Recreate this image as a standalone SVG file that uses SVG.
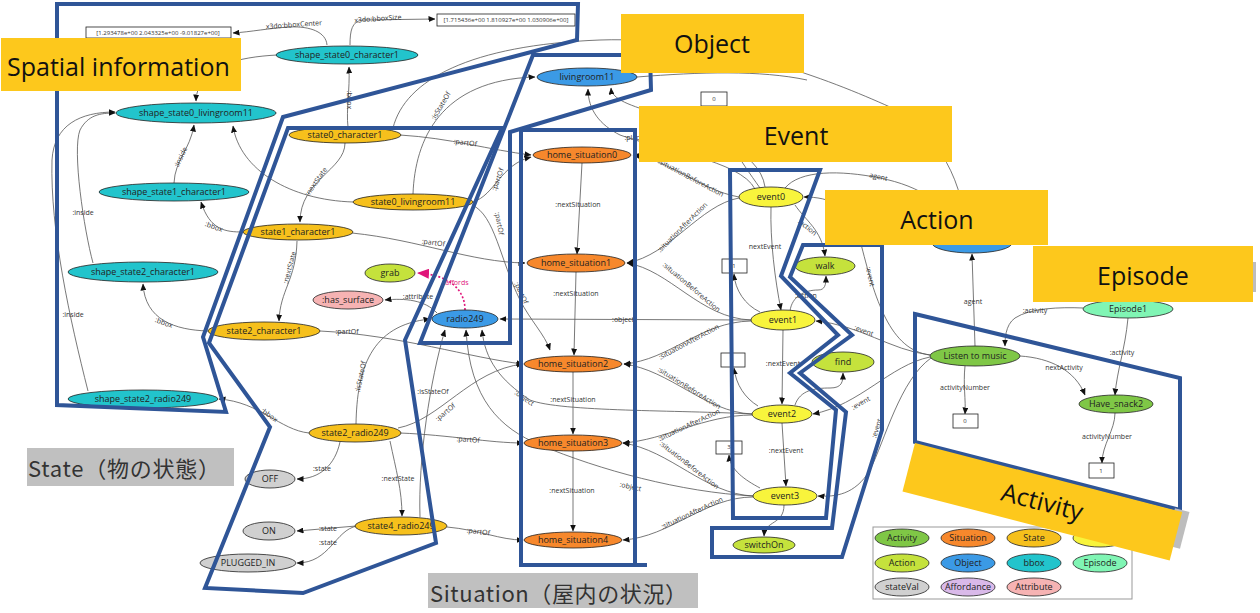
<svg xmlns="http://www.w3.org/2000/svg" width="1260" height="613" viewBox="0 0 1260 613">
<defs>
<marker id="ah" markerWidth="7" markerHeight="6" refX="6.5" refY="3" orient="auto" markerUnits="userSpaceOnUse"><path d="M0,0 L7,3 L0,6 z" fill="#111"/></marker>
<marker id="am" markerWidth="12" markerHeight="10" refX="11" refY="5" orient="auto" markerUnits="userSpaceOnUse"><path d="M0,0 L12,5 L0,10 z" fill="#e0157a"/></marker>
<style>
.e{fill:none;stroke:#555;stroke-width:0.8;marker-end:url(#ah)}
.en{fill:none;stroke:#555;stroke-width:0.8}
.el{font-family:"Open Sans","DejaVu Sans",sans-serif;font-size:7px;fill:#333;text-anchor:middle}
.n{stroke:#222;stroke-width:0.8}
.nt{font-family:"Open Sans","DejaVu Sans",sans-serif;font-size:9px;fill:#222;text-anchor:middle}
.bx{fill:#fff;stroke:#222;stroke-width:0.8}
.bt{font-family:"Open Sans","DejaVu Sans",sans-serif;font-size:6px;fill:#333;text-anchor:middle}
.bbox{fill:#22c4cc}.state{fill:#f6c01c}.sit{fill:#f7882c}.obj{fill:#3b9ae6}.ev{fill:#f8f43c}.act{fill:#c5e23c}.acty{fill:#7fc746}.epi{fill:#80f5b4}.sv{fill:#d0d0d0}.aff{fill:#d9b9e9}.attr{fill:#f6b3b3}
.pg{fill:none;stroke:#2f5597;stroke-width:4;stroke-linejoin:miter}
.yl{fill:#fdc81c}
.yt{font-family:"Open Sans","Noto Sans",sans-serif;font-size:25px;fill:#111;text-anchor:middle}
.gl{fill:#c0c0c0}
.gt{font-family:"Noto Sans CJK JP","Noto Sans",sans-serif;font-size:22px;fill:#333}
</style>
</defs>
<rect width="1260" height="613" fill="#fff"/>

<g id="connectors">
<path class="e" d="M327,45 C326,32 310,26 290,27 C270,28 250,32 233,33"/>
<text class="el" x="294" y="27" transform="rotate(-4 294 27)">x3do:bboxCenter</text>
<path class="e" d="M350,45 C350,30 352,22 362,20 L435,19"/>
<text class="el" x="378" y="21" transform="rotate(-4 378 21)">x3do:bboxSize</text>
<path class="e" d="M277,55 C240,57 197,65 196,101"/>
<path class="e" d="M348,127 C346,110 350,90 349,67"/>
<text class="el" x="347" y="100" transform="rotate(90 347 100)">:bbox</text>
<path class="e" d="M174,183 C175,160 190,150 194,125"/>
<text class="el" x="183" y="158" transform="rotate(-65 183 158)">:inside</text>
<path class="e" d="M353,202 C290,200 240,170 233,126"/>
<path class="e" d="M345,143 C345,170 300,180 300,222"/>
<text class="el" x="318" y="183" transform="rotate(-55 318 183)">:nextState</text>
<path class="e" d="M243,232 C225,232 210,230 201,202"/>
<text class="el" x="213" y="229" transform="rotate(20 213 229)">:bbox</text>
<path class="e" d="M297,241 C296,280 280,290 279,321"/>
<text class="el" x="292" y="268" transform="rotate(-75 292 268)">:nextState</text>
<path class="e" d="M208,331 C175,330 145,320 143,284"/>
<text class="el" x="163" y="325" transform="rotate(20 163 325)">:bbox</text>
<path class="e" d="M93,263 C84,230 72,150 80,130 C88,115 100,113 115,113"/>
<text class="el" x="83" y="215">:inside</text>
<path class="e" d="M88,391 C70,320 50,230 52,160 C54,125 80,112 115,112"/>
<text class="el" x="73" y="317">:inside</text>
<path class="e" d="M309,433 C280,430 260,402 219,399"/>
<text class="el" x="268" y="417" transform="rotate(35 268 417)">:bbox</text>
<path class="e" d="M340,442 C335,465 320,479 297,479"/>
<text class="el" x="322" y="471">:state</text>
<path class="e" d="M390,441 C396,470 402,490 402,516"/>
<text class="el" x="398" y="481">:nextState</text>
<path class="e" d="M356,526 L297,531"/>
<text class="el" x="328" y="531">:state</text>
<path class="e" d="M357,526 C335,530 330,563 297,563"/>
<text class="el" x="328" y="545">:state</text>
<path class="e" d="M447,527 C480,530 500,540 523,540"/>
<text class="el" x="478" y="534" transform="rotate(8 478 534)">:partOf</text>
<path class="e" d="M400,433 C450,435 490,443 523,443"/>
<text class="el" x="468" y="442" transform="rotate(4 468 442)">:partOf</text>
<path class="e" d="M398,428 C440,420 470,370 523,364"/>
<text class="el" x="447" y="414" transform="rotate(-40 447 414)">:partOf</text>
<path class="e" d="M356,424 C357,370 370,325 430,319"/>
<text class="el" x="363" y="377" transform="rotate(-78 363 377)">:isStateOf</text>
<path class="e" d="M420,517 C418,460 430,380 445,330"/>
<text class="el" x="433" y="394">:isStateOf</text>
<path class="e" d="M753,496 C680,492 600,470 540,445 C500,428 470,400 466,330"/>
<text class="el" x="630" y="489" transform="rotate(12 630 489)">:object</text>
<path class="e" d="M752,414 C680,410 560,412 530,400 C500,380 485,360 482,330"/>
<text class="el" x="523" y="400" transform="rotate(35 523 400)">:object</text>
<path class="e" d="M751,320 L500,319"/>
<text class="el" x="623" y="322">:object</text>
<path fill="none" stroke="#e0157a" stroke-width="1.6" stroke-dasharray="2,2" marker-end="url(#am)" d="M465,310 C465,290 450,275 418,273"/>
<text class="el" x="456" y="285" style="fill:#e0157a">:affords</text>
<path class="e" d="M437,313 C425,300 405,298 385,300"/>
<text class="el" x="418" y="299">:attribute</text>
<path class="e" d="M413,194 C415,140 440,80 535,77"/>
<text class="el" x="443" y="107" transform="rotate(-60 443 107)">:isStateOf</text>
<path class="e" d="M393,128 C405,80 470,45 600,40 C720,36 830,80 890,107 C930,128 962,170 966,232"/>
<path class="e" d="M400,135 C450,138 490,150 531,155"/>
<text class="el" x="465" y="145" transform="rotate(8 465 145)">:partOf</text>
<path class="e" d="M473,202 C495,195 500,165 531,157"/>
<text class="el" x="500" y="180" transform="rotate(-70 500 180)">:partOf</text>
<path class="e" d="M472,205 C495,215 500,260 520,300 C530,320 545,335 550,350"/>
<text class="el" x="497" y="224" transform="rotate(80 497 224)">:partOf</text>
<text class="el" x="519" y="294" transform="rotate(65 519 294)">:partOf</text>
<path class="e" d="M352,233 C420,240 470,262 525,263"/>
<text class="el" x="433" y="245" transform="rotate(8 433 245)">:partOf</text>
<path class="e" d="M320,331 C400,335 470,358 523,364"/>
<text class="el" x="347" y="334">:partOf</text>
<path class="e" d="M582,163 L577,254"/>
<text class="el" x="578" y="207">:nextSituation</text>
<path class="e" d="M576,272 L574,355"/>
<text class="el" x="576" y="296">:nextSituation</text>
<path class="e" d="M573,372 L573,434"/>
<text class="el" x="573" y="402">:nextSituation</text>
<path class="e" d="M573,451 L573,531"/>
<text class="el" x="572" y="493">:nextSituation</text>
<path class="e" d="M739,197 C700,190 670,160 633,155"/>
<text class="el" x="690" y="180" transform="rotate(28 690 180)">:situationBeforeAction</text>
<path class="e" d="M739,198 C700,205 670,255 627,263"/>
<text class="el" x="684" y="229" transform="rotate(-45 684 229)">:situationAfterAction</text>
<path class="e" d="M751,320 C700,318 670,270 627,263"/>
<text class="el" x="690" y="289" transform="rotate(40 690 289)">:situationBeforeAction</text>
<path class="e" d="M751,321 C700,322 670,360 624,364"/>
<text class="el" x="690" y="344" transform="rotate(-28 690 344)">:situationAfterAction</text>
<path class="e" d="M752,414 C705,412 670,370 624,364"/>
<text class="el" x="688" y="390" transform="rotate(32 688 390)">:situationBeforeAction</text>
<path class="e" d="M752,415 C705,415 665,440 623,443"/>
<text class="el" x="690" y="427" transform="rotate(-25 690 427)">:situationAfterAction</text>
<path class="e" d="M753,496 C705,494 670,450 623,443"/>
<text class="el" x="688" y="467" transform="rotate(38 688 467)">:situationBeforeAction</text>
<path class="e" d="M753,497 C705,497 670,537 623,540"/>
<text class="el" x="693" y="515" transform="rotate(-25 693 515)">:situationAfterAction</text>
<path class="e" d="M771,207 C770,240 775,280 781,310"/>
<text class="el" x="765" y="249">nextEvent</text>
<path class="e" d="M783,330 L782,404"/>
<text class="el" x="783" y="366">:nextEvent</text>
<path class="e" d="M782,423 L786,486"/>
<text class="el" x="786" y="453">:nextEvent</text>
<path class="e" d="M760,312 C745,305 735,290 734,274"/>
<path class="e" d="M758,406 C745,398 736,385 734,368"/>
<path class="e" d="M760,488 C745,480 730,470 729,455"/>
<path class="e" d="M760,188 C740,160 720,130 714,107"/>
<path class="e" d="M790,311 C792,296 805,290 818,290 C825,290 826,285 826,276"/>
<text class="el" x="806" y="298">:action</text>
<path class="e" d="M795,405 C800,390 815,388 830,388 C842,388 843,382 843,373"/>
<path class="e" d="M784,505 C784,525 765,520 764,536"/>
<path class="e" d="M795,205 C805,220 822,230 825,256"/>
<text class="el" x="806" y="229" transform="rotate(40 806 229)">:action</text>
<path class="e" d="M930,355 C890,350 875,300 860,240 C850,205 830,197 804,197"/>
<text class="el" x="868" y="277" transform="rotate(78 868 277)">:event</text>
<path class="e" d="M930,355 C890,350 860,325 816,321"/>
<text class="el" x="863" y="333" transform="rotate(20 863 333)">:event</text>
<path class="e" d="M930,357 C890,365 860,405 813,414"/>
<text class="el" x="862" y="405" transform="rotate(-30 862 405)">:event</text>
<path class="e" d="M931,358 C900,380 885,440 870,470 C855,495 835,497 818,496"/>
<text class="el" x="879" y="429" transform="rotate(-72 879 429)">:event</text>
<path class="e" d="M785,188 C800,170 840,170 880,178 C920,186 950,205 960,235"/>
<text class="el" x="878" y="179" transform="rotate(12 878 179)">agent</text>
<path class="e" d="M975,346 L972,254"/>
<text class="el" x="973" y="304">agent</text>
<path class="e" d="M1083,308 C1060,307 1030,308 1015,318 C1005,325 1005,340 1005,346"/>
<text class="el" x="1035" y="313">:activity</text>
<path class="e" d="M1128,318 C1125,350 1117,370 1115,395"/>
<text class="el" x="1122" y="355">:activity</text>
<path class="e" d="M1020,356 C1050,358 1075,370 1085,395"/>
<text class="el" x="1064" y="370">nextActivity</text>
<path class="e" d="M965,366 C963,385 966,400 965,414"/>
<text class="el" x="965" y="390">activityNumber</text>
<path class="e" d="M1115,413 C1115,430 1102,445 1102,463"/>
<text class="el" x="1107" y="439">activityNumber</text>
<path class="e" d="M755,189 C740,160 660,150 620,135 C600,125 588,110 588,89"/>
<path class="e" d="M765,187 C760,150 700,130 660,115 C630,105 612,100 611,88"/>
<text class="el" x="634" y="140">:place</text>
<path class="en" d="M637,77 C700,72 760,70 807,80"/>
</g>

<g id="n-box1"><rect class="bx" x="86" y="27" width="145" height="11"/><text class="bt" x="158" y="35">[1.293478e+00 2.043325e+00 -9.01827e+00]</text></g>
<g id="n-box2"><rect class="bx" x="437" y="14" width="138" height="12"/><text class="bt" x="506" y="22">[1.715436e+00 1.810927e+00 1.030906e+00]</text></g>
<g id="n-ss0c1"><ellipse class="n bbox" cx="347" cy="55" rx="71" ry="9"/><text class="nt" x="347" y="58">shape_state0_character1</text></g>
<g id="n-ss0l"><ellipse class="n bbox" cx="196" cy="113" rx="80" ry="10"/><text class="nt" x="196" y="116">shape_state0_livingroom11</text></g>
<g id="n-ss1c1"><ellipse class="n bbox" cx="174" cy="192" rx="75" ry="9"/><text class="nt" x="174" y="195">shape_state1_character1</text></g>
<g id="n-ss2c1"><ellipse class="n bbox" cx="143" cy="272" rx="75" ry="10"/><text class="nt" x="143" y="275">shape_state2_character1</text></g>
<g id="n-ss2r"><ellipse class="n bbox" cx="143" cy="399" rx="75" ry="9"/><text class="nt" x="143" y="402">shape_state2_radio249</text></g>
<g id="n-s0c1"><ellipse class="n state" cx="345" cy="135" rx="56" ry="8"/><text class="nt" x="345" y="138">state0_character1</text></g>
<g id="n-s0l"><ellipse class="n state" cx="413" cy="202" rx="60" ry="8"/><text class="nt" x="413" y="205">state0_livingroom11</text></g>
<g id="n-s1c1"><ellipse class="n state" cx="298" cy="232" rx="55" ry="8"/><text class="nt" x="298" y="235">state1_character1</text></g>
<g id="n-s2c1"><ellipse class="n state" cx="264" cy="331" rx="56" ry="9"/><text class="nt" x="264" y="334">state2_character1</text></g>
<g id="n-s2r"><ellipse class="n state" cx="355" cy="433" rx="46" ry="9"/><text class="nt" x="355" y="436">state2_radio249</text></g>
<g id="n-s4r"><ellipse class="n state" cx="401" cy="526" rx="46" ry="9"/><text class="nt" x="401" y="529">state4_radio249</text></g>
<g id="n-grab"><ellipse class="n act" cx="390" cy="273" rx="25" ry="9"/><text class="nt" x="390" y="276">grab</text></g>
<g id="n-hs"><ellipse class="n attr" cx="348" cy="300" rx="35" ry="9"/><text class="nt" x="348" y="303">:has_surface</text></g>
<g id="n-radio"><ellipse class="n obj" cx="465" cy="319" rx="33" ry="9"/><text class="nt" x="465" y="322">radio249</text></g>
<g id="n-lr"><ellipse class="n obj" cx="587" cy="77" rx="50" ry="9"/><text class="nt" x="587" y="80">livingroom11</text></g>
<g id="n-char1"><ellipse class="n obj" cx="972" cy="243" rx="40" ry="10"/></g>
<g id="n-off"><ellipse class="n sv" cx="270" cy="479" rx="25" ry="9"/><text class="nt" x="270" y="482">OFF</text></g>
<g id="n-on"><ellipse class="n sv" cx="269" cy="531" rx="26" ry="9"/><text class="nt" x="269" y="534">ON</text></g>
<g id="n-plug"><ellipse class="n sv" cx="248" cy="563" rx="48" ry="9"/><text class="nt" x="248" y="566">PLUGGED_IN</text></g>
<g id="n-h0"><ellipse class="n sit" cx="582" cy="155" rx="49" ry="8"/><text class="nt" x="582" y="158">home_situation0</text></g>
<g id="n-h1"><ellipse class="n sit" cx="576" cy="263" rx="49" ry="9"/><text class="nt" x="576" y="266">home_situation1</text></g>
<g id="n-h2"><ellipse class="n sit" cx="573" cy="364" rx="49" ry="8"/><text class="nt" x="573" y="367">home_situation2</text></g>
<g id="n-h3"><ellipse class="n sit" cx="573" cy="443" rx="49" ry="8"/><text class="nt" x="573" y="446">home_situation3</text></g>
<g id="n-h4"><ellipse class="n sit" cx="573" cy="540" rx="49" ry="8"/><text class="nt" x="573" y="543">home_situation4</text></g>
<g id="n-e0"><ellipse class="n ev" cx="771" cy="197" rx="32" ry="10"/><text class="nt" x="771" y="200">event0</text></g>
<g id="n-e1"><ellipse class="n ev" cx="783" cy="320" rx="32" ry="10"/><text class="nt" x="783" y="323">event1</text></g>
<g id="n-e2"><ellipse class="n ev" cx="782" cy="414" rx="30" ry="9"/><text class="nt" x="782" y="417">event2</text></g>
<g id="n-e3"><ellipse class="n ev" cx="785" cy="496" rx="32" ry="9"/><text class="nt" x="785" y="499">event3</text></g>
<g id="n-b0"><rect class="bx" x="701" y="92" width="26" height="14"/><text class="bt" x="714" y="101">0</text></g>
<g id="n-b1"><rect class="bx" x="722" y="259" width="25" height="14"/><text class="bt" x="734" y="268">1</text></g>
<g id="n-b2"><rect class="bx" x="721" y="353" width="24" height="14"/></g>
<g id="n-b3"><rect class="bx" x="716" y="441" width="26" height="13"/><text class="bt" x="729" y="449">3</text></g>
<g id="n-walk"><ellipse class="n act" cx="825" cy="266" rx="30" ry="9"/><text class="nt" x="825" y="269">walk</text></g>
<g id="n-find"><ellipse class="n act" cx="843" cy="362" rx="31" ry="10"/><text class="nt" x="843" y="365">find</text></g>
<g id="n-sw"><ellipse class="n act" cx="764" cy="545" rx="31" ry="8"/><text class="nt" x="764" y="548">switchOn</text></g>
<g id="n-listen"><ellipse class="n acty" cx="975" cy="356" rx="45" ry="10"/><text class="nt" x="975" y="359">Listen to music</text></g>
<g id="n-ep1"><ellipse class="n epi" cx="1128" cy="309" rx="45" ry="9"/><text class="nt" x="1128" y="312">Episode1</text></g>
<g id="n-snack"><ellipse class="n acty" cx="1116" cy="404" rx="37" ry="9"/><text class="nt" x="1116" y="407">Have_snack2</text></g>
<g id="n-a0"><rect class="bx" x="953" y="414" width="25" height="14"/><text class="bt" x="965" y="423">0</text></g>
<g id="n-a1"><rect class="bx" x="1089" y="463" width="25" height="15"/><text class="bt" x="1101" y="473">1</text></g>

<g id="legend">
<rect x="873" y="527" width="259" height="72" fill="#fff" stroke="#999" stroke-width="1"/>
<ellipse class="n acty" cx="902" cy="538" rx="27" ry="9"/><text class="nt" x="902" y="541">Activity</text>
<ellipse class="n sit" cx="968" cy="538" rx="27" ry="9"/><text class="nt" x="968" y="541">Situation</text>
<ellipse class="n state" cx="1034" cy="538" rx="27" ry="9"/><text class="nt" x="1034" y="541">State</text>
<ellipse class="n ev" cx="1100" cy="538" rx="27" ry="9"/>
<ellipse class="n act" cx="902" cy="563" rx="27" ry="9"/><text class="nt" x="902" y="566">Action</text>
<ellipse class="n obj" cx="968" cy="563" rx="27" ry="9"/><text class="nt" x="968" y="566">Object</text>
<ellipse class="n bbox" cx="1034" cy="563" rx="27" ry="9"/><text class="nt" x="1034" y="566">bbox</text>
<ellipse class="n epi" cx="1100" cy="563" rx="27" ry="9"/><text class="nt" x="1100" y="566">Episode</text>
<ellipse class="n sv" cx="902" cy="587" rx="27" ry="9"/><text class="nt" x="902" y="590">stateVal</text>
<ellipse class="n aff" cx="968" cy="587" rx="27" ry="9"/><text class="nt" x="968" y="590">Affordance</text>
<ellipse class="n attr" cx="1034" cy="587" rx="27" ry="9"/><text class="nt" x="1034" y="590">Attribute</text>
</g>

<g id="regions">
<polygon class="pg" points="57,4 578,4 577,40 283,117 203,337 226,412 57,405"/>
<polygon class="pg" points="288,128 502,128 405,340 436,543 303,593 205,588 270,427 209,343"/>
<polygon class="pg" points="533,55 650,55 651,90 510,132 510,343 420,343"/>
<path class="pg" d="M521,130 H635 V565 H521 Z M635,565 H647"/>
<polygon class="pg" points="730,170 820,170 781,276 838,335 790,373 836,410 826,518 733,518"/>
<polygon class="pg" points="803,245 882,245 882,430 842,557 712,557 712,528 832,528 846,412 800,373 852,335 790,277"/>
<polygon class="pg" points="915,314 1180,378 1180,510 915,442"/>
</g>

<g id="labels">
<rect class="yl" x="1" y="38" width="240" height="53"/>
<text class="yt" x="7" y="76" style="text-anchor:start">Spatial information</text>
<rect class="yl" x="621" y="14" width="183" height="59"/>
<text class="yt" x="712" y="53">Object</text>
<rect class="yl" x="639" y="106" width="313" height="56"/>
<text class="yt" x="796" y="145">Event</text>
<rect class="yl" x="825" y="190" width="223" height="55"/>
<text class="yt" x="937" y="229">Action</text>
<rect x="1245" y="262" width="11" height="30" fill="#bdbdbd"/>
<rect class="yl" x="1033" y="246" width="220" height="56"/>
<text class="yt" x="1143" y="285">Episode</text>
<g transform="translate(915 443) rotate(14.5)">
<rect x="268" y="-2" width="15" height="38" fill="#bdbdbd"/>
<rect class="yl" x="0" y="0" width="276" height="50"/>
<text class="yt" x="138" y="34">Activity</text>
</g>
<rect class="gl" x="27" y="448" width="207" height="38"/>
<text class="gt" x="28" y="477" textLength="192">State（物の状態）</text>
<rect class="gl" x="428" y="573" width="270" height="35"/>
<text class="gt" x="430" y="602" textLength="257">Situation（屋内の状況）</text>
</g>
</svg>
